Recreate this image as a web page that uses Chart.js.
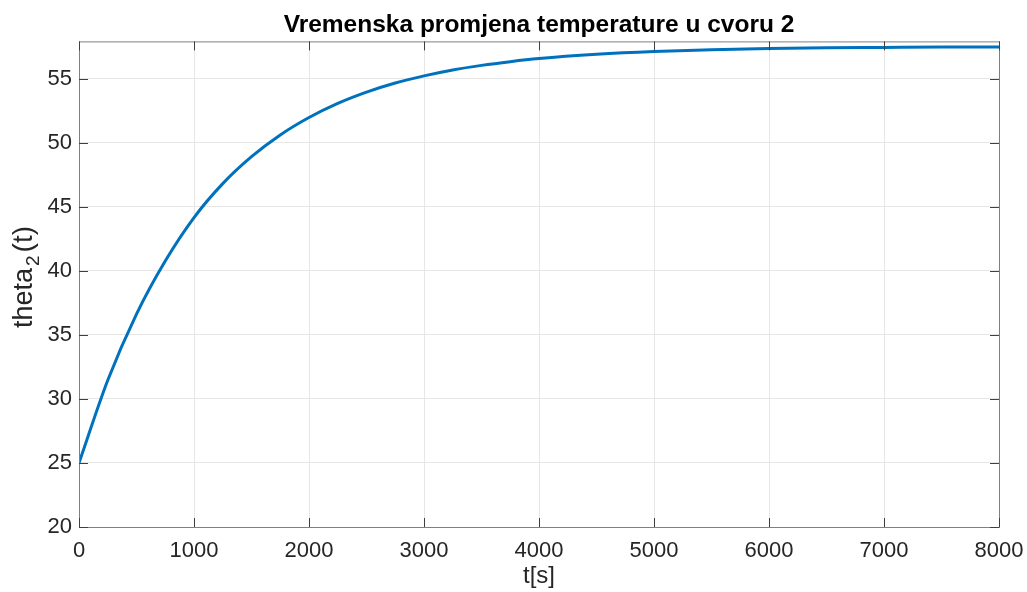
<!DOCTYPE html>
<html>
<head>
<meta charset="utf-8">
<script src="https://cdn.jsdelivr.net/npm/chart.js@4/dist/chart.umd.min.js"></script>
<style>
  html, body { margin: 0; padding: 0; background: #fff; }
  #wrap { width: 1027px; height: 592px; }
</style>
</head>
<body>
<div id="wrap"><canvas id="grafico"></canvas></div>
<script>
// Dados
const tempos = [0, 250, 500, 750, 1000, 1250, 1500, 1750, 2000, 2250, 2500, 2750, 3000,
  3250, 3500, 3750, 4000, 4500, 5000, 5500, 6000, 6500, 7000, 7500, 8000];
const theta2 = [25, 31.45, 36.62, 40.76, 44.15, 46.8, 48.9, 50.6, 51.96, 53.06, 53.94, 54.65, 55.21,
  55.67, 56.03, 56.32, 56.56, 56.89, 57.11, 57.25, 57.34, 57.4, 57.43, 57.46, 57.47];
const xTicks = [0, 1000, 2000, 3000, 4000, 5000, 6000, 7000, 8000];
const yTicks = [20, 25, 30, 35, 40, 45, 50, 55];

const pontos = tempos.map((t, i) => ({ x: t, y: theta2[i] }));
const fonte = 'Liberation Sans, Arial, sans-serif';

// Caixa completa + marcas de escala para dentro (estilo MATLAB)
const caixaPlugin = {
  id: 'caixa',
  afterDraw(chart) {
    const { ctx, chartArea: a, scales } = chart;
    ctx.save();
    ctx.strokeStyle = '#808080';
    ctx.lineWidth = 1;
    ctx.strokeRect(a.left + 0.5, a.top + 0.5, a.right - a.left, a.bottom - a.top);
    ctx.strokeStyle = '#404040';
    ctx.beginPath();
    xTicks.forEach(v => {
      const px = Math.round(scales.x.getPixelForValue(v)) + 0.5;
      ctx.moveTo(px, a.bottom); ctx.lineTo(px, a.bottom - 9);
      ctx.moveTo(px, a.top); ctx.lineTo(px, a.top + 9);
    });
    yTicks.forEach(v => {
      const py = Math.round(scales.y.getPixelForValue(v)) + 0.5;
      ctx.moveTo(a.left, py); ctx.lineTo(a.left + 9, py);
      ctx.moveTo(a.right, py); ctx.lineTo(a.right - 9, py);
    });
    ctx.stroke();
    ctx.restore();
  }
};

// Rótulo do eixo y com subscrito: theta_2(t)
const rotuloYPlugin = {
  id: 'rotuloY',
  afterDraw(chart) {
    const ctx = chart.ctx;
    const partes = [
      { txt: 'theta', size: 27, dy: 0, gap: 2 },
      { txt: '2', size: 19, dy: 7, gap: 3 },
      { txt: '(t)', size: 28, dy: 0, gap: 0 }
    ];
    ctx.save();
    let total = 0;
    partes.forEach(p => {
      ctx.font = p.size + 'px ' + fonte;
      p.w = ctx.measureText(p.txt).width;
      total += p.w + p.gap;
    });
    ctx.translate(32, 277);
    ctx.rotate(-Math.PI / 2);
    ctx.fillStyle = '#262626';
    ctx.textBaseline = 'alphabetic';
    ctx.textAlign = 'left';
    let x = -total / 2;
    partes.forEach(p => {
      ctx.font = p.size + 'px ' + fonte;
      ctx.fillText(p.txt, x, p.dy);
      x += p.w + p.gap;
    });
    ctx.restore();
  }
};

new Chart(document.getElementById('grafico'), {
  type: 'line',
  data: {
    datasets: [{
      data: pontos,
      borderColor: '#0072BD',
      borderWidth: 3,
      pointRadius: 0,
      cubicInterpolationMode: 'monotone',
      fill: false
    }]
  },
  options: {
    responsive: true,
    maintainAspectRatio: false,
    animation: false,
    layout: { padding: { left: 0, right: 28, top: 0, bottom: 0 } },
    plugins: {
      legend: { display: false },
      tooltip: { enabled: false },
      title: {
        display: true,
        fullSize: false,
        text: 'Vremenska promjena temperature u cvoru 2',
        color: '#000',
        font: { family: fonte, size: 24.5, weight: 'bold' },
        padding: { top: 11, bottom: 1 }
      }
    },
    scales: {
      x: {
        type: 'linear',
        min: 0,
        max: 8000,
        afterBuildTicks: s => { s.ticks = xTicks.map(v => ({ value: v })); },
        afterFit: s => { s.height = 65; s.paddingLeft = 0; s.paddingRight = 0; },
        border: { display: false },
        grid: { color: '#e6e6e6', drawTicks: false },
        ticks: {
          color: '#262626',
          padding: 11,
          maxRotation: 0,
          callback: v => String(v),
          font: { family: fonte, size: 22 }
        },
        title: {
          display: true,
          text: 't[s]',
          color: '#262626',
          padding: { top: 0, bottom: 1 },
          font: { family: fonte, size: 24 }
        }
      },
      y: {
        min: 20,
        max: 57.9,
        afterBuildTicks: s => { s.ticks = yTicks.map(v => ({ value: v })); },
        afterFit: s => { s.width = 79; },
        border: { display: false },
        grid: { color: '#e6e6e6', drawTicks: false },
        ticks: {
          color: '#262626',
          padding: 7,
          callback: v => String(v),
          font: { family: fonte, size: 22 }
        }
      }
    }
  },
  plugins: [caixaPlugin, rotuloYPlugin]
});
</script>
</body>
</html>
